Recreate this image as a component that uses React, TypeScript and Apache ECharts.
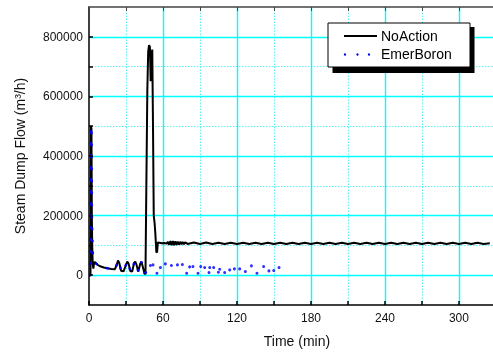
import React, { useEffect, useRef } from 'react';
import * as echarts from 'echarts';

const xTickLabels = [0, 60, 120, 180, 240, 300];
const xMinorGrid = [30, 90, 150, 210, 270];
const yTickLabels = [0, 200000, 400000, 600000, 800000];
const yMinorGrid = [100000, 300000, 500000, 700000];

const noAction: number[][] = [
  [0, 0], [1.2, 0], [1.6, 500000], [2.0, 490000], [2.3, 200000], [2.6, 100000], [3.0, 40000], [3.5, 22000],
  [4.3, 45000], [5.5, 40000], [7, 35000], [9, 30000], [12, 26000], [15, 23000], [18, 21000], [21, 20000],
  [22.5, 35000], [23.5, 49000], [24.5, 42000], [26, 15000], [28, 13000], [30, 35000], [31, 46000], [32, 40000],
  [33.5, 14000], [35, 12000], [36.5, 40000], [37.5, 46000], [38.5, 35000], [40, 12000], [41.5, 38000],
  [42.5, 45000], [43.5, 30000], [45, 6000], [45.8, 3000], [46.5, 300000], [47.3, 620000], [48, 750000],
  [48.7, 772000], [49.4, 765000], [50, 651000], [50.6, 740000], [51.3, 757000], [51.9, 500000], [52.5, 200000],
  [53.2, 175000], [53.8, 140000], [54.6, 78000], [55.2, 76000], [55.8, 110000], [57, 109000], [59, 107000],
  [61, 108000], [63, 106000], [64, 112000], [65, 102000], [66, 115000], [67, 101000], [68, 115000], [69, 101000],
  [70, 114000], [71, 102000], [72, 113000], [73, 103000], [74, 112000], [75, 104000], [76, 111000], [77, 104000],
  [78, 110000], [80, 105000], [85, 109500], [90, 104500], [95, 109500], [100, 104500], [105, 109000],
  [110, 104500], [115, 109000], [120, 105000], [125, 109000], [130, 104500], [135, 109000], [140, 105000],
  [145, 109000], [150, 104500], [155, 109000], [160, 105000], [165, 109000], [170, 104500], [175, 109000],
  [180, 105000], [185, 109000], [190, 104500], [195, 109000], [200, 105000], [205, 109000], [210, 104500],
  [215, 109000], [220, 105000], [225, 109000], [230, 104500], [235, 109000], [240, 105000], [245, 109000],
  [250, 104500], [255, 109000], [260, 105000], [265, 109000], [270, 104500], [275, 109000], [280, 105000],
  [285, 109000], [290, 104500], [295, 109000], [300, 105000], [305, 109000], [310, 104500], [315, 109000],
  [320, 105000], [325, 107000],
];

const emerBoronEarly: number[][] = [
  [0, 0], [1.2, 0], [1.6, 500000], [2.0, 490000], [2.3, 200000], [2.7, 120000], [3.2, 60000], [4.3, 45000],
  [5.5, 40000], [7, 35000], [9, 30000], [12, 26000], [15, 23000], [18, 21000], [21, 20000], [22.5, 35000],
  [23.5, 48000], [24.5, 42000], [26, 15000], [28, 13000], [30, 35000], [31, 46000], [32, 40000], [33.5, 14000],
  [35, 12000], [36.5, 40000], [37.5, 46000], [38.5, 35000], [40, 12000], [41.5, 38000], [42.5, 45000],
  [43.5, 30000], [45, 6000],
];

const emerBoronLate: number[][] = [
  [46.0, 8700], [49.8, 32300], [51.9, 34600], [55.1, 6700], [57.9, 25500], [61.9, 38000], [66.8, 32300],
  [71.7, 34600], [75.7, 35600], [79.2, 6700], [81.6, 27900], [84.3, 28900], [88.4, 6700], [90.6, 28900],
  [93.8, 25500], [97.3, 8700], [97.9, 25500], [101.1, 25500], [104.9, 10100], [106.0, 20200], [110.0, 8700],
  [114.1, 17800], [117.9, 21200], [122.2, 21200], [126.8, 12100], [131.7, 31300], [136.2, 6700],
  [141.6, 28900], [145.9, 14500], [149.8, 15500], [154.1, 25500],
];

const FONT = "'Liberation Sans', Arial, sans-serif";
const CYAN = '#00ffff';
const CYAN_MINOR = '#60f0f0';

export default function App() {
  const ref = useRef<HTMLDivElement>(null);
  useEffect(() => {
    const chart = echarts.init(ref.current!, null, { renderer: 'svg' });
    const minorStyle = { color: CYAN_MINOR, type: [1.5, 1.5], width: 1 };
    const majorStyle = { color: CYAN, type: 'solid', width: 1.4 };
    const gridLines = [
      ...xMinorGrid.map((v) => ({ xAxis: v, lineStyle: minorStyle })),
      ...yMinorGrid.map((v) => ({ yAxis: v, lineStyle: minorStyle })),
      ...xTickLabels.filter((v) => v > 0).map((v) => ({ xAxis: v, lineStyle: majorStyle })),
      ...yTickLabels.map((v) => ({ yAxis: v, lineStyle: majorStyle })),
    ];
    chart.setOption({
      animation: false,
      grid: { left: 89, top: 7, right: 0, bottom: 54 },
      xAxis: [
        {
          type: 'value',
          min: 0,
          max: 327.6,
          interval: 30,
          axisLine: { show: true, onZero: false, lineStyle: { color: '#000', width: 1.5 } },
          axisTick: { show: true, inside: true, length: 4, lineStyle: { color: '#000', width: 1.5 } },
          axisLabel: {
            formatter: (v: number) => (xTickLabels.includes(v) ? String(v) : ''),
            fontFamily: FONT,
            fontSize: 12,
            color: '#111',
            margin: 7,
            showMaxLabel: false,
          },
          splitLine: { show: false },
          name: 'Time (min)',
          nameLocation: 'middle',
          nameGap: 29,
          nameTextStyle: { fontFamily: FONT, fontSize: 14, color: '#111', padding: [0, 0, 0, 12] },
          z: 5,
        },
        {
          type: 'value',
          position: 'top',
          min: 0,
          max: 327.6,
          interval: 30,
          axisLine: { show: true, onZero: false, lineStyle: { color: '#444', width: 1.5 } },
          axisTick: { show: true, inside: true, length: 4, lineStyle: { color: '#444' } },
          axisLabel: { show: false },
          splitLine: { show: false },
          z: 5,
        },
      ],
      yAxis: {
        type: 'value',
        min: -100000,
        max: 900000,
        interval: 100000,
        axisLine: { show: true, onZero: false, lineStyle: { color: '#000', width: 1.5 } },
        axisTick: { show: true, inside: true, length: 4, lineStyle: { color: '#000', width: 1.5 } },
        axisLabel: {
          formatter: (v: number) => (yTickLabels.includes(v) ? String(v) : ''),
          fontFamily: FONT,
          fontSize: 12,
          color: '#111',
          margin: 6,
          showMinLabel: false,
          showMaxLabel: false,
        },
        splitLine: { show: false },
        name: 'Steam Dump Flow (m³/h)',
        nameLocation: 'middle',
        nameGap: 62,
        nameTextStyle: { fontFamily: FONT, fontSize: 14, color: '#111' },
        z: 5,
      },
      graphic: [
        { type: 'rect', shape: { x: 332.5, y: 27, width: 142, height: 46 }, style: { fill: '#000' }, z: 100 },
        { type: 'rect', shape: { x: 328, y: 23, width: 142, height: 44 }, style: { fill: '#fff', stroke: '#000', lineWidth: 1 }, z: 101 },
        { type: 'line', shape: { x1: 344, y1: 36, x2: 377, y2: 36 }, style: { stroke: '#000', lineWidth: 2 }, z: 102 },
        { type: 'circle', shape: { cx: 345, cy: 54.5, r: 1.2 }, style: { fill: '#0000ff' }, z: 102 },
        { type: 'circle', shape: { cx: 357.5, cy: 54.5, r: 1.2 }, style: { fill: '#0000ff' }, z: 102 },
        { type: 'circle', shape: { cx: 369, cy: 54.5, r: 1.2 }, style: { fill: '#0000ff' }, z: 102 },
        { type: 'text', x: 381, y: 36, style: { text: 'NoAction', fontFamily: FONT, fontSize: 14, fill: '#000', verticalAlign: 'middle' }, z: 102 },
        { type: 'text', x: 381, y: 54, style: { text: 'EmerBoron', fontFamily: FONT, fontSize: 14, fill: '#000', verticalAlign: 'middle' }, z: 102 },
      ],
      series: [
        {
          name: 'NoAction',
          type: 'line',
          data: noAction,
          showSymbol: false,
          lineStyle: { color: '#000', width: 2 },
          z: 3,
          markLine: {
            silent: true,
            symbol: ['none', 'none'],
            label: { show: false },
            lineStyle: majorStyle,
            emphasis: { disabled: true },
            data: gridLines,
            z: 1,
          },
        },
        {
          name: 'EmerBoron',
          type: 'line',
          data: emerBoronEarly,
          showSymbol: false,
          lineStyle: { color: '#0000ff', width: 2.5, type: [2.5, 9.5] },
          z: 4,
        },
        {
          name: 'EmerBoron',
          type: 'scatter',
          data: emerBoronLate,
          symbol: 'circle',
          symbolSize: 3,
          itemStyle: { color: '#0000ff' },
          z: 4,
        },
      ],
    });
    return () => chart.dispose();
  }, []);
  return <div ref={ref} style={{ position: 'fixed', left: 0, top: 0, width: 493, height: 359 }} />;
}
